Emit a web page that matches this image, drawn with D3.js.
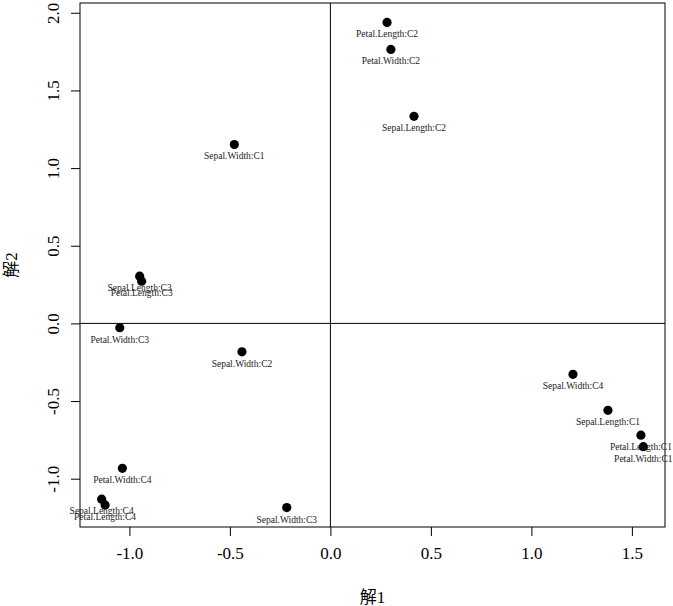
<!DOCTYPE html>
<html>
<head>
<meta charset="utf-8">
<script src="https://cdn.jsdelivr.net/npm/d3@7"></script>
<style>
  html, body { margin: 0; padding: 0; background: #fff; }
  svg { display: block; }
</style>
</head>
<body>
<script>
// ---- data ----
const labels = [
  "Petal.Length:C2", "Petal.Width:C2", "Sepal.Length:C2", "Sepal.Width:C1",
  "Sepal.Length:C3", "Petal.Length:C3", "Petal.Width:C3", "Sepal.Width:C2",
  "Petal.Width:C4", "Sepal.Length:C4", "Petal.Length:C4", "Sepal.Width:C3",
  "Sepal.Width:C4", "Sepal.Length:C1", "Petal.Length:C1", "Petal.Width:C1"
];
const dim1 = [0.282, 0.301, 0.416, -0.478, -0.949, -0.939, -1.048, -0.440,
              -1.035, -1.138, -1.121, -0.217, 1.207, 1.381, 1.545, 1.557];
const dim2 = [1.938, 1.764, 1.333, 1.152, 0.304, 0.272, -0.028, -0.183,
              -0.933, -1.132, -1.169, -1.186, -0.328, -0.560, -0.720, -0.794];
const xTicks = [-1.0, -0.5, 0.0, 0.5, 1.0, 1.5];
const yTicks = [-1.0, -0.5, 0.0, 0.5, 1.0, 1.5, 2.0];
const xTitle = "解1";
const yTitle = "解2";

// ---- layout ----
const W = 673, H = 606;
const plot = { left: 80, right: 665, top: 3, bottom: 527 };
const serif = "'Liberation Serif', 'Noto Sans CJK JP', serif";
const fmt = d => d3.format(".1f")(d).replace("\u2212", "-");

const svg = d3.select("body").append("svg").attr("width", W).attr("height", H);

// R-style 4% extension of data range
function ext(vals) {
  const lo = d3.min(vals), hi = d3.max(vals), r = hi - lo;
  return [lo - 0.04 * r, hi + 0.04 * r];
}
const x = d3.scaleLinear().domain(ext(dim1)).range([plot.left, plot.right]);
const y = d3.scaleLinear().domain(ext(dim2)).range([plot.bottom, plot.top]);

// frame
svg.append("rect")
  .attr("x", plot.left).attr("y", plot.top)
  .attr("width", plot.right - plot.left).attr("height", plot.bottom - plot.top)
  .attr("fill", "none").attr("stroke", "#000").attr("stroke-width", 1);

// zero lines
svg.append("line")
  .attr("x1", plot.left).attr("x2", plot.right)
  .attr("y1", y(0)).attr("y2", y(0))
  .attr("stroke", "#000").attr("stroke-width", 1);
svg.append("line")
  .attr("x1", x(0)).attr("x2", x(0))
  .attr("y1", plot.top).attr("y2", plot.bottom)
  .attr("stroke", "#000").attr("stroke-width", 1);

// x axis
const xAxis = d3.axisBottom(x).tickValues(xTicks).tickFormat(fmt)
  .tickSize(9).tickPadding(11);
const gx = svg.append("g").attr("transform", `translate(0,${plot.bottom})`).call(xAxis);
gx.select(".domain").remove();
gx.selectAll("text").attr("font-family", serif).attr("font-size", 17).attr("fill", "#000");
gx.selectAll("line").attr("stroke", "#000");

// y axis
const yAxis = d3.axisLeft(y).tickValues(yTicks).tickFormat(fmt)
  .tickSize(9).tickPadding(0);
const gy = svg.append("g").attr("transform", `translate(${plot.left},0)`).call(yAxis);
gy.select(".domain").remove();
gy.selectAll("line").attr("stroke", "#000");
gy.selectAll("text").remove();
gy.selectAll(".tick").append("text")
  .attr("transform", "translate(-27,0) rotate(-90)")
  .attr("text-anchor", "middle")
  .attr("dy", "0.35em")
  .attr("font-family", serif).attr("font-size", 17).attr("fill", "#000")
  .text(d => fmt(d));

// axis titles
svg.append("text")
  .attr("x", (plot.left + plot.right) / 2).attr("y", 603)
  .attr("text-anchor", "middle")
  .attr("font-family", serif).attr("font-size", 17)
  .text(xTitle);
svg.append("text")
  .attr("transform", `translate(17,${(plot.top + plot.bottom) / 2}) rotate(-90)`)
  .attr("text-anchor", "middle")
  .attr("font-family", serif).attr("font-size", 17)
  .text(yTitle);

// points
const data = labels.map((l, i) => ({ label: l, a: dim1[i], b: dim2[i] }));
svg.append("g").selectAll("circle").data(data).join("circle")
  .attr("cx", d => x(d.a)).attr("cy", d => y(d.b))
  .attr("r", 4.6).attr("fill", "#000");

// labels
svg.append("g").selectAll("text").data(data).join("text")
  .attr("x", d => x(d.a)).attr("y", d => y(d.b) + 15)
  .attr("text-anchor", "middle")
  .attr("font-family", serif).attr("font-size", 9.5).attr("fill", "#222")
  .text(d => d.label);
</script>
</body>
</html>
